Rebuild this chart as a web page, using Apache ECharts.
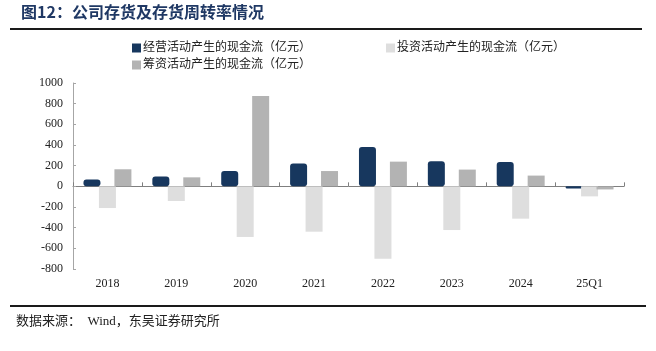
<!DOCTYPE html>
<html>
<head>
<meta charset="utf-8">
<script src="https://cdn.jsdelivr.net/npm/echarts@6/dist/echarts.min.js"></script>
<style>
html,body{margin:0;padding:0;background:#fff;}
#sample{width:656px;height:351px;}
</style>
</head>
<body>
<div id="sample"></div>
<script>
var categories = ['2018', '2019', '2020', '2021', '2022', '2023', '2024', '25Q1'];
var operating = [65, 94, 148, 220, 380, 242, 236, -20];
var investing = [-210, -142, -490, -439, -700, -423, -313, -97];
var financing = [165, 87, 874, 148, 239, 162, 104, -30];
var yTicks = [-800, -600, -400, -200, 0, 200, 400, 600, 800, 1000];

var serifFont = '"Liberation Serif", "Noto Sans CJK SC", serif';
var names = ['经营活动产生的现金流（亿元）', '投资活动产生的现金流（亿元）', '筹资活动产生的现金流（亿元）'];

var myChart = echarts.init(document.getElementById('sample'));
myChart.setOption({
	animation: false,
	graphic: [
		//标题
		{type: 'text', left: 21, top: 4, style: {text: '图12：公司存货及存货周转率情况', font: 'bold 16px "Noto Sans CJK SC", serif', fill: '#1f3864'}},
		{type: 'rect', shape: {x: 10, y: 28, width: 632, height: 2}, style: {fill: '#1a1a1a'}},
		{type: 'rect', shape: {x: 10, y: 305, width: 636, height: 2}, style: {fill: '#1a1a1a'}},
		{type: 'text', left: 16, top: 315, style: {text: '数据来源：  Wind，东吴证券研究所', font: '13px ' + serifFont, fill: '#222'}}
	],
	legend: [
		{
			data: [names[0], names[2]],
			orient: 'vertical',
			left: 127, top: 37,
			itemWidth: 9, itemHeight: 9, itemGap: 5,
			icon: 'rect',
			textStyle: {fontSize: 12, color: '#222', fontFamily: serifFont, padding: [0, 0, 0, -3]}
		},
		{
			data: [names[1]],
			left: 381, top: 37,
			itemWidth: 9, itemHeight: 9,
			icon: 'rect',
			textStyle: {fontSize: 12, color: '#222', fontFamily: serifFont, padding: [0, 0, 0, -3]}
		}
	],
	grid: {left: 73, right: 32, top: 83, bottom: 82, outerBoundsMode: 'none', containLabel: false},
	xAxis: [
		{
			//零轴线和刻度
			type: 'category',
			data: categories,
			axisLine: {onZero: true, lineStyle: {color: '#7f7f7f', width: 1}},
			axisTick: {show: true, inside: true, length: 4, lineStyle: {color: '#7f7f7f'}},
			axisLabel: {show: false}
		},
		{
			//底部标签
			type: 'category',
			data: categories,
			position: 'bottom',
			axisLine: {show: false, onZero: false},
			axisTick: {show: false},
			axisLabel: {fontSize: 12, color: '#222', fontFamily: serifFont, margin: 9}
		}
	],
	yAxis: {
		type: 'value',
		min: yTicks[0], max: yTicks[yTicks.length - 1], interval: 200,
		splitLine: {show: false},
		axisLine: {show: true, lineStyle: {color: '#a6a6a6'}},
		axisTick: {show: true, inside: true, length: 3, lineStyle: {color: '#a6a6a6'}},
		axisLabel: {fontSize: 12, color: '#222', fontFamily: serifFont, margin: 10,
			formatter: function(v){ return String(v); }}
	},
	series: [
		{name: names[0], type: 'bar', data: operating, barWidth: 17, barGap: '-9%',
			itemStyle: {color: '#17375e', borderRadius: 3}},
		{name: names[1], type: 'bar', data: investing, barWidth: 17, barGap: '-9%',
			itemStyle: {color: '#dedede'}},
		{name: names[2], type: 'bar', data: financing, barWidth: 17, barGap: '-9%',
			itemStyle: {color: '#b3b3b3'}}
	]
});
</script>
</body>
</html>
